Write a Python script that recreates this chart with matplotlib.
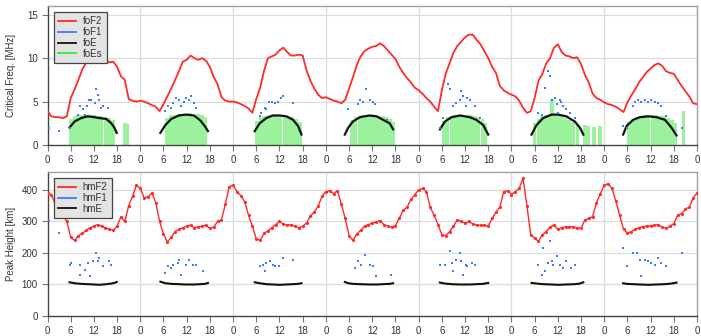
import numpy as np
import matplotlib
matplotlib.use('Agg')
import matplotlib.pyplot as plt
from matplotlib.lines import Line2D

plt.rcParams['font.family'] = ['Liberation Sans', 'DejaVu Sans']

# ---------------- data ----------------
hours = list(range(0, 169))

fof2 = [3.9, 3.3, 3.2, 3.2, 3.1, 3.3, 5.4, 6.4, 7.5, 8.7, 9.5, 9.9, 10.0, 10.3, 10.2, 9.7, 9.5, 9.6, 9.0, 7.9, 7.5, 5.3, 5.1, 5.0,
        5.1, 5.0, 4.8, 4.6, 4.4, 3.9, 4.7, 5.6, 6.5, 7.5, 8.5, 9.6, 9.8, 10.3, 10.0, 9.8, 10.0, 9.7, 9.0, 7.8, 7.0, 5.5, 5.1, 5.0,
        5.0, 4.9, 4.7, 4.5, 4.2, 3.7, 5.3, 6.6, 8.5, 10.0, 10.2, 10.4, 10.9, 11.2, 10.7, 10.3, 10.3, 10.4, 10.3, 8.6, 7.4, 6.5, 5.8, 5.4,
        5.5, 5.3, 5.1, 5.0, 4.8, 5.2, 6.5, 7.8, 9.2, 10.2, 10.8, 11.1, 11.3, 11.4, 11.7, 11.4, 10.9, 10.4, 9.9, 9.0, 8.3, 7.7, 7.2, 6.6,
        6.3, 5.9, 5.4, 5.0, 4.4, 3.9, 6.3, 8.2, 9.4, 10.6, 11.4, 11.9, 12.4, 12.7, 12.7, 12.1, 11.6, 10.8, 10.0, 9.0, 8.3, 6.8, 6.3, 6.0,
        5.8, 5.6, 5.1, 4.3, 3.7, 3.9, 5.4, 7.4, 8.2, 9.4, 10.0, 11.2, 11.6, 10.7, 10.3, 10.2, 10.0, 10.1, 9.3, 8.1, 7.2, 5.9, 5.4, 5.2,
        4.9, 4.7, 4.6, 4.4, 4.1, 3.8, 4.9, 5.7, 6.4, 7.2, 7.8, 8.4, 8.8, 9.2, 9.4, 9.1, 8.5, 8.3, 8.2, 7.5, 6.8, 6.2, 5.6, 4.8, 4.7]

hmf2 = [390, 385, 355, 330, 320, 300, 250, 240, 255, 262, 272, 280, 285, 290, 285, 280, 275, 272, 285, 315, 300, 350, 380, 415,
        405, 375, 378, 390, 360, 300, 260, 235, 250, 268, 275, 280, 285, 288, 280, 283, 285, 288, 278, 282, 300, 305, 355, 410,
        415, 395, 382, 363, 320, 285, 245, 240, 262, 270, 280, 290, 300, 292, 288, 290, 285, 280, 285, 295, 318, 330, 348, 380,
        395, 398, 388, 398, 355, 310, 255, 240, 260, 272, 285, 290, 295, 298, 303, 290, 285, 282, 287, 310, 335, 345, 370, 385,
        400, 405, 395, 345, 320, 290, 258, 255, 268, 285, 305, 300, 295, 300, 292, 289, 288, 288, 285, 310, 330, 345, 395, 398,
        385, 395, 405, 437, 350, 258, 247, 237, 258, 268, 282, 289, 275, 280, 283, 284, 282, 280, 278, 305, 310, 315, 360, 388,
        415, 420, 405, 365, 320, 275, 263, 268, 275, 280, 284, 285, 287, 288, 290, 282, 278, 285, 293, 320, 325, 340, 345, 375, 390]

foe_hours = [5.7, 7.0, 8.7, 10.4, 12.2, 13.4, 15.2, 16.5, 17.3, 17.9,
             29.2, 30.5, 32.0, 34.0, 35.8, 37.9, 39.6, 40.8, 41.5,
             53.6, 54.9, 56.6, 58.3, 60.0, 61.8, 63.5, 64.8, 65.7,
             76.9, 77.8, 79.0, 80.8, 83.3, 85.1, 86.8, 88.5, 89.4,
             101.5, 102.8, 104.5, 106.7, 109.2, 110.9, 112.7, 114.0,
             125.2, 126.5, 128.2, 130.4, 132.1, 134.2, 136.4, 137.7, 138.6,
             148.9, 149.8, 151.5, 153.2, 155.4, 157.5, 159.7, 161.4, 162.7]
foe_values = [2.0, 2.7, 3.1, 3.3, 3.2, 3.1, 3.0, 2.5, 2.0, 1.4,
              1.4, 2.3, 3.0, 3.4, 3.5, 3.4, 2.8, 2.1, 1.6,
              1.6, 2.5, 3.1, 3.4, 3.4, 3.3, 2.9, 2.2, 1.2,
              1.2, 2.0, 2.7, 3.2, 3.4, 3.3, 2.9, 2.5, 1.8,
              1.8, 2.7, 3.2, 3.4, 3.2, 2.9, 2.3, 1.2,
              1.2, 2.3, 3.1, 3.5, 3.5, 3.3, 2.7, 2.0, 1.2,
              1.2, 2.2, 2.9, 3.2, 3.3, 3.2, 2.9, 2.0, 1.1]
hme_values = [107, 104, 102, 101, 100, 99, 101, 103, 105, 108,
              109, 104, 102, 101, 100, 100, 101, 102, 105,
              107, 104, 101, 100, 99, 100, 101, 102, 104,
              108, 104, 102, 101, 100, 100, 101, 102, 104,
              106, 103, 101, 100, 100, 101, 102, 105,
              105, 103, 101, 100, 99, 100, 101, 103, 107,
              104, 102, 101, 100, 99, 100, 101, 103, 106]

fof1_hours = [0.5, 3.1, 5.7, 7.8, 8.3, 9.1, 9.6, 10.2, 10.7, 11.3, 12.2, 12.6, 13.0, 13.3, 13.9, 14.3, 15.6,
              30.3, 31.1, 32.0, 32.4, 33.3, 34.1, 34.6, 35.4, 35.9, 36.7, 37.2, 38.0, 38.4,
              54.9, 55.3, 56.2, 56.6, 57.3, 58.0, 58.8, 59.6, 60.5, 60.9, 63.5,
              77.7, 80.3, 80.8, 81.6, 82.5, 83.3, 84.2, 84.6, 87.7,
              101.5, 102.4, 103.6, 104.0, 104.9, 105.7, 106.6, 107.0, 107.5, 108.3, 108.4, 109.2, 110.5, 111.8,
              126.9, 127.8, 128.6, 129.5, 129.9, 130.4, 131.2, 131.7, 132.1, 132.5, 132.9, 133.4, 134.2, 135.1, 136.4,
              148.9, 149.8, 151.5, 151.9, 152.8, 153.6, 154.5, 155.4, 156.2, 157.1, 157.9, 158.8, 160.1, 164.0]
fof1_values = [2.0, 1.6, 2.0, 3.5, 4.5, 4.1, 3.5, 4.5, 5.2, 5.2, 4.8, 6.5, 5.8, 5.2, 4.3, 4.5, 4.3,
               3.9, 4.5, 4.3, 4.8, 5.4, 5.2, 4.5, 5.0, 5.4, 5.2, 5.6, 4.8, 4.3,
               3.3, 3.7, 4.3, 4.1, 5.0, 5.0, 4.8, 4.9, 5.4, 5.6, 4.8,
               4.1, 4.7, 5.2, 5.0, 6.5, 5.2, 5.0, 4.7, 2.9,
               2.0, 3.1, 7.0, 6.4, 4.5, 4.8, 5.2, 6.2, 5.6, 4.5, 5.4, 5.2, 4.5, 3.1,
               3.7, 3.5, 6.6, 8.5, 7.9, 5.2, 5.4, 4.7, 3.7, 5.2, 5.0, 4.5, 4.1, 3.7, 3.1,
               2.2, 2.0, 4.5, 5.0, 5.2, 5.0, 5.2, 5.0, 5.2, 5.0, 4.8, 4.5, 3.3, 2.0]

hmf1_hours = [0.5, 3.1, 5.7, 6.1, 8.3, 8.4, 9.6, 10.4, 10.9, 11.7, 12.6, 13.0, 13.4, 14.3, 16.0, 16.4,
              30.3, 31.1, 32.0, 32.4, 33.7, 34.1, 34.6, 35.9, 36.7, 37.6, 38.4, 40.2,
              54.9, 55.7, 56.2, 56.6, 57.6, 58.4, 58.8, 60.0, 60.9, 63.5,
              79.5, 80.3, 81.2, 82.0, 83.3, 84.2, 85.0, 88.9,
              101.5, 102.8, 104.0, 104.5, 104.9, 105.7, 106.6, 107.0, 107.5, 108.3, 108.4, 109.7, 110.5,
              126.9, 127.8, 128.2, 128.6, 129.5, 129.9, 130.4, 130.8, 131.7, 132.5, 133.4, 134.2, 135.5, 136.4,
              148.9, 149.8, 151.5, 152.4, 153.2, 153.6, 154.5, 155.4, 156.2, 157.1, 157.9, 158.8, 160.1, 164.0]
hmf1_values = [300, 263, 163, 168, 163, 131, 147, 168, 126, 174, 200, 174, 184, 158, 174, 163,
               137, 158, 153, 163, 168, 179, 131, 163, 179, 163, 163, 142,
               158, 163, 142, 168, 174, 163, 158, 158, 184, 179,
               153, 174, 163, 195, 163, 158, 126, 131,
               163, 163, 205, 168, 142, 179, 200, 174, 131, 163, 158, 168, 163,
               163, 131, 216, 142, 168, 237, 174, 163, 189, 163, 153, 174, 153, 163,
               216, 158, 200, 200, 179, 126, 179, 174, 168, 163, 184, 168, 158, 200]

es_hours = [5.6, 6.5, 7.5, 8.5, 9.5, 10.5, 11.5, 12.5, 13.5, 14.5, 15.5, 16.5, 19.6, 20.2,
            30.4, 31.4, 32.4, 33.4, 34.4, 35.4, 36.4, 37.4, 38.4, 39.4, 40.4,
            53.8, 54.8, 55.8, 56.8, 57.8, 58.8, 59.8, 60.8, 61.8, 62.8, 63.8, 64.8,
            78.2, 79.2, 80.2, 81.2, 82.2, 83.2, 84.2, 85.2, 86.2, 87.2, 88.2, 89.0,
            102.0, 103.0, 104.0, 105.0, 106.0, 107.0, 108.0, 109.0, 110.0, 111.0, 112.0, 112.8,
            125.5, 126.5, 127.5, 128.5, 129.5, 130.5, 131.5, 132.5, 133.5, 134.5, 135.5, 136.6, 130.1,
            138.6, 139.3, 140.9, 142.4,
            150.0, 151.0, 152.0, 153.0, 154.0, 155.0, 156.0, 157.0, 158.0, 159.0, 160.0, 161.0, 161.9, 164.0]
es_values = [3.0, 3.3, 3.4, 3.4, 3.5, 3.4, 3.4, 3.3, 3.3, 3.2, 3.1, 2.9, 2.5, 2.4,
             3.1, 3.4, 3.5, 3.6, 3.6, 3.6, 3.7, 3.5, 3.6, 3.4, 3.2,
             2.8, 3.2, 3.3, 3.4, 3.4, 3.4, 3.4, 3.4, 3.3, 3.2, 3.0, 2.7,
             2.9, 3.2, 3.3, 3.4, 3.4, 3.4, 3.4, 3.3, 3.3, 3.2, 3.0, 2.6,
             2.8, 3.2, 3.3, 3.4, 3.5, 3.5, 3.4, 3.4, 3.3, 3.2, 3.0, 2.5,
             2.5, 3.0, 3.3, 3.4, 3.5, 3.5, 3.4, 3.3, 3.1, 2.9, 2.6, 2.3, 5.3,
             2.3, 2.2, 2.1, 2.2,
             2.6, 3.0, 3.2, 3.3, 3.4, 3.4, 3.4, 3.4, 3.3, 3.3, 3.1, 2.9, 2.5, 3.9]

tick_positions = list(range(0, 169, 6))
tick_labels = ['0', '6', '12', '18'] * 7 + ['0']

top_labels = ['foF2', 'foF1', 'foE', 'foEs']
bottom_labels = ['hmF2', 'hmF1', 'hmE']

# ---------------- style ----------------
RED = '#ff2a2a'
BLUE = '#3a7bff'
BLACK = '#111111'
GREEN_BAR = '#9cf29c'
GREEN_LEG = '#33ee33'
GRID = '#dcdcdc'
TXT = '#333333'


def split_days(t, v):
    t = np.asarray(t, float)
    v = np.asarray(v, float)
    idx = np.where(np.diff(t) > 4)[0] + 1
    return zip(np.split(t, idx), np.split(v, idx))


def style(ax, ymax, yticks):
    ax.set_xlim(0, 168)
    ax.set_ylim(0, ymax)
    ax.set_xticks(tick_positions)
    ax.set_xticklabels(tick_labels)
    ax.set_yticks(yticks)
    for d in range(1, 7):
        ax.axvline(24 * d, color=GRID, lw=0.9, zorder=0)
    for y in yticks[1:]:
        ax.axhline(y, color=GRID, lw=0.9, zorder=0)
    for s in ['top', 'right']:
        ax.spines[s].set_color('#a0a0a0')
        ax.spines[s].set_linewidth(1.0)
    for s in ['left', 'bottom']:
        ax.spines[s].set_color('#444444')
        ax.spines[s].set_linewidth(1.0)
    ax.tick_params(direction='out', length=4, width=0.8, color='#777777',
                   labelsize=7, labelcolor=TXT, pad=3)


def make_legend(ax, colors, labels, anchor):
    hs = [Line2D([], [], color=c, lw=1.3) for c in colors]
    leg = ax.legend(hs, labels, loc='upper left', bbox_to_anchor=anchor,
                    fontsize=7, frameon=True, fancybox=False, facecolor='#e3e3e3',
                    edgecolor='#444444', framealpha=1, handlelength=1.8,
                    handletextpad=0.7, labelspacing=0.08, borderpad=0.45, borderaxespad=0)
    leg.get_frame().set_linewidth(0.9)
    for t in leg.get_texts():
        t.set_color(TXT)
    return leg


fig = plt.figure(figsize=(7.01, 3.36), dpi=100)
W, H = 701.0, 336.0
ax1 = fig.add_axes([47.5 / W, 1 - 145 / H, 649.5 / W, 139 / H])
ax2 = fig.add_axes([47.5 / W, 1 - 316 / H, 649.5 / W, 144 / H])

# ---- top panel ----
style(ax1, 16, [0, 5, 10, 15])
ax1.bar(es_hours, es_values, width=0.97, align='edge', color=GREEN_BAR, lw=0, zorder=1)
ax1.plot(hours, fof2, color=RED, lw=1.3, zorder=3)
for t, v in split_days(foe_hours, foe_values):
    ax1.plot(t, v, color=BLACK, lw=1.6, zorder=4)
ax1.scatter(fof1_hours, fof1_values, s=2.5, color=BLUE, marker='s', lw=0, zorder=5)
ax1.set_ylabel('Critical Freq. [MHz]', fontsize=7, color=TXT)
ax1.yaxis.set_label_coords(-0.049, 0.5)
make_legend(ax1, [RED, BLUE, BLACK, GREEN_LEG], top_labels, (0.01, 0.957))

# ---- bottom panel ----
style(ax2, 457, [0, 100, 200, 300, 400])
ax2.plot(hours, hmf2, color=RED, lw=1.0, marker='.', ms=2.5, zorder=3)
for t, v in split_days(foe_hours, hme_values):
    ax2.plot(t, v, color=BLACK, lw=1.5, zorder=4)
ax2.scatter(hmf1_hours, hmf1_values, s=2.5, color=BLUE, marker='s', lw=0, zorder=5)
ax2.set_ylabel('Peak Height [km]', fontsize=7, color=TXT)
ax2.yaxis.set_label_coords(-0.049, 0.5)
make_legend(ax2, [RED, BLUE, BLACK], bottom_labels, (0.01, 0.959))

fig.savefig('out.png', dpi=100)
